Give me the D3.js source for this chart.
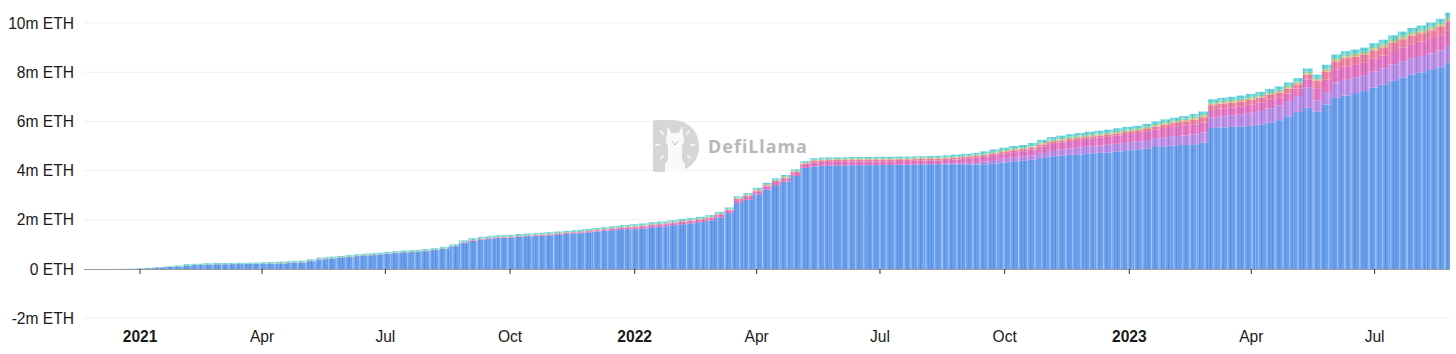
<!DOCTYPE html>
<html>

<head>
  <meta charset="utf-8">
  <title>Staked ETH</title>
  <style>
    html, body { margin: 0; padding: 0; background: #fff; }
    svg { display: block; }
    text { font-family: "Liberation Sans", Arial, sans-serif; }
  </style>
</head>

<body>
  <svg width="1456" height="354"></svg>
  <script src="https://d3js.org/d3.v7.min.js"></script>
  <script>
    // weekly values, million ETH
    var blue = [
      0,0,0,0,.003,.006,.02,.035,.06,.085,
      .09,.14,.16,.18,.19,.19,.20,.20,.21,.22,
      .205,.225,.255,.265,.315,.385,.425,.455,.485,.525,
      .555,.585,.615,.645,.675,.695,.725,.765,.825,.925,
      1.05,1.14,1.20,1.24,1.26,1.28,1.31,1.33,1.35,1.37,
      1.39,1.42,1.45,1.48,1.52,1.56,1.58,1.62,1.615,1.645,
      1.695,1.725,1.775,1.815,1.855,1.905,1.975,2.095,2.275,2.68,
      2.81,3.03,3.23,3.41,3.55,3.78,4.11,4.17,4.20,4.21,
      4.21,4.22,4.22,4.22,4.23,4.23,4.24,4.24,4.25,4.26,
      4.26,4.26,4.26,4.25,4.25,4.26,4.29,4.33,4.38,4.40,
      4.44,4.52,4.58,4.61,4.64,4.66,4.70,4.72,4.74,4.78,
      4.83,4.85,4.89,4.96,4.99,5.02,5.04,5.07,5.14,5.73,
      5.76,5.78,5.79,5.82,5.87,5.95,6.05,6.21,6.38,6.55,
      6.39,6.69,6.96,7.05,7.15,7.23,7.37,7.49,7.65,7.78,
      7.90,7.99,8.09,8.20,8.37
    ];
    var purple = [
      0,0,0,0,0,0,0,0,0,0,
      0,0,0,0,0,0,0,0,0,0,
      0,0,0,0,0,0,0,0,0,0,
      0,0,0,0,0,0,0,0,0,0,
      0,0,0,0,0,0,0,0,0,0,
      0,0,0,0,0,0,0,0,0,0,
      0,0,0,0,0,0,0,0,0,0,
      0,0,0,0,0,0,0,0,0,0,
      0,0,0,0,0,0,0,0,0,0,
      0,.02,.04,.07,.10,.12,.14,.15,.16,.17,
      .18,.20,.22,.24,.26,.28,.29,.30,.31,.32,
      .33,.34,.35,.36,.37,.38,.39,.40,.42,.43,
      .45,.47,.50,.53,.55,.58,.60,.62,.65,.84,
      .46,.50,.62,.64,.65,.65,.66,.66,.66,.67,
      .67,.67,.67,.68,.70
    ];
    var pink = [
      0,0,0,0,0,0,0,0,0,0,
      0,0,0,0,0,0,0,0,0,0,
      .005,.005,.005,.005,.005,.005,.005,.005,.005,.005,
      .005,.005,.005,.005,.005,.005,.005,.005,.005,.005,
      .02,.02,.02,.02,.02,.02,.02,.02,.03,.03,
      .04,.04,.04,.05,.05,.05,.06,.06,.08,.08,
      .08,.08,.08,.09,.09,.09,.09,.10,.10,.12,
      .12,.12,.12,.12,.12,.12,.12,.15,.15,.15,
      .15,.15,.15,.15,.15,.15,.15,.15,.15,.15,
      .15,.15,.15,.16,.17,.18,.20,.20,.21,.22,
      .24,.26,.28,.29,.30,.31,.31,.32,.32,.33,
      .33,.34,.36,.35,.37,.38,.39,.40,.40,.30,
      .31,.31,.32,.33,.34,.35,.32,.31,.30,.32,
      .50,.52,.54,.55,.50,.50,.52,.53,.55,.56,
      .57,.58,.59,.60,.62
    ];
    var salmon = [
      0,0,0,0,0,0,0,0,0,0,
      0,0,0,0,0,0,0,0,0,0,
      .005,.005,.005,.005,.005,.005,.005,.005,.005,.005,
      .005,.005,.005,.005,.005,.005,.005,.005,.005,.005,
      .01,.01,.01,.01,.01,.01,.01,.01,.01,.01,
      .01,.01,.01,.01,.01,.01,.02,.02,.03,.03,
      .03,.03,.03,.03,.03,.03,.03,.03,.03,.05,
      .05,.05,.05,.05,.05,.05,.05,.07,.07,.07,
      .07,.07,.07,.07,.07,.07,.07,.07,.07,.07,
      .07,.07,.07,.07,.07,.07,.07,.08,.08,.08,
      .08,.08,.08,.08,.08,.08,.08,.08,.08,.08,
      .08,.08,.09,.12,.14,.16,.18,.20,.21,.20,
      .20,.20,.20,.20,.20,.20,.20,.19,.18,.19,
      .30,.32,.32,.33,.33,.33,.33,.33,.33,.33,
      .34,.34,.35,.36,.38
    ];
    var gold = [
      0,0,0,0,0,0,0,0,0,0,
      0,0,0,0,0,0,0,0,0,0,
      .005,.005,.005,.005,.005,.005,.005,.005,.005,.005,
      .005,.005,.005,.005,.005,.005,.005,.005,.005,.005,
      .01,.01,.01,.01,.01,.01,.01,.01,.01,.01,
      .01,.01,.01,.01,.01,.01,.01,.01,.015,.015,
      .015,.015,.015,.015,.015,.015,.015,.015,.015,.02,
      .02,.02,.02,.02,.02,.02,.02,.03,.03,.03,
      .03,.03,.03,.03,.03,.03,.03,.03,.03,.03,
      .03,.03,.03,.03,.03,.03,.04,.04,.04,.04,
      .04,.05,.05,.05,.05,.05,.05,.05,.05,.05,
      .05,.05,.05,.05,.05,.05,.06,.06,.06,.06,
      .06,.06,.06,.06,.06,.06,.06,.06,.06,.06,
      .06,.07,.07,.07,.07,.07,.08,.08,.08,.08,
      .08,.08,.08,.09,.10
    ];
    var green = [
      0,0,0,0,.001,.002,.003,.005,.007,.01,
      .02,.02,.02,.02,.02,.02,.02,.02,.02,.02,
      .025,.025,.025,.025,.025,.025,.025,.025,.025,.025,
      .025,.025,.025,.025,.025,.025,.025,.025,.025,.025,
      .03,.03,.03,.03,.03,.03,.03,.03,.03,.03,
      .03,.03,.03,.03,.03,.03,.03,.03,.03,.03,
      .03,.03,.03,.03,.03,.03,.03,.03,.03,.03,
      .03,.03,.03,.03,.03,.03,.03,.03,.03,.03,
      .03,.03,.03,.03,.03,.03,.03,.03,.03,.03,
      .03,.03,.03,.03,.03,.04,.04,.04,.04,.04,
      .05,.05,.05,.05,.05,.05,.05,.05,.06,.06,
      .06,.06,.06,.06,.06,.06,.06,.07,.07,.06,
      .06,.06,.06,.06,.06,.06,.06,.06,.06,.06,
      .06,.06,.07,.07,.07,.07,.07,.08,.08,.08,
      .08,.08,.08,.08,.08
    ];
    var teal = [
      0,0,0,0,.002,.003,.005,.008,.012,.015,
      .03,.03,.03,.03,.03,.03,.03,.03,.03,.03,
      .035,.035,.035,.035,.035,.035,.035,.035,.035,.035,
      .035,.035,.035,.035,.035,.035,.035,.035,.035,.035,
      .04,.04,.04,.04,.04,.04,.04,.04,.04,.04,
      .04,.04,.04,.04,.04,.04,.04,.04,.05,.05,
      .05,.05,.05,.05,.05,.05,.05,.05,.05,.05,
      .05,.05,.05,.05,.05,.05,.05,.05,.05,.05,
      .05,.05,.05,.05,.05,.05,.05,.05,.05,.05,
      .06,.06,.07,.07,.07,.08,.08,.09,.09,.09,
      .09,.09,.10,.10,.10,.10,.10,.10,.10,.10,
      .10,.10,.10,.10,.10,.10,.10,.10,.10,.12,
      .12,.12,.12,.12,.12,.12,.13,.13,.13,.13,
      .13,.14,.14,.14,.15,.15,.15,.15,.15,.15,
      .16,.16,.16,.16,.17
    ];

    var seriesNames = ["blue", "purple", "pink", "salmon", "gold", "green", "teal"];
    var seriesColors = ["#6b9fe9", "#bf8ee6", "#e874c0", "#f37f9c", "#e3bb80", "#84d6a0", "#66d6da"];
    var seriesValues = [blue, purple, pink, salmon, gold, green, teal];

    var yTicks = [-2, 0, 2, 4, 6, 8, 10];
    var xTickDates = ["2021-01-01", "2021-04-01", "2021-07-01", "2021-10-01", "2022-01-01", "2022-04-01", "2022-07-01", "2022-10-01", "2023-01-01", "2023-04-01", "2023-07-01"];
    var xTickLabels = ["2021", "Apr", "Jul", "Oct", "2022", "Apr", "Jul", "Oct", "2023", "Apr", "Jul"];

    // the bar texture: [offset, width, kind], kind 0 is a dark line, 1 a light one
    var stripeMarks = [[1, 1, 0], [4, 1.2, 1], [7.5, 1, 0], [11, 1.6, 1], [14, 0.8, 0], [18, 1.2, 1], [21, 1.2, 0], [26, 1.4, 1], [29, 0.8, 0]];

    var startDay = Date.UTC(2020, 10, 21);
    var dayMs = 86400000;

    var xScale = d3.scaleUtc().domain([new Date(startDay), new Date(Date.UTC(2023, 7, 26))]).range([84, 1450]);
    var yScale = d3.scaleLinear().domain([-2, 10]).range([318.2, 23]);

    var rows = blue.map(function (v, i) {
      var row = { date: new Date(startDay + i * 7 * dayMs) };
      seriesNames.forEach(function (name, s) { row[name] = seriesValues[s][i]; });
      return row;
    });
    var stacked = d3.stack().keys(seriesNames)(rows);

    var svg = d3.select("svg");
    var defs = svg.append("defs");
    defs.append("filter").attr("id", "soft")
      .attr("x", "-1%").attr("y", "-5%").attr("width", "102%").attr("height", "110%")
      .append("feGaussianBlur").attr("stdDeviation", 0.6);
    defs.append("clipPath").attr("id", "plot")
      .append("rect").attr("x", 84).attr("y", 0).attr("width", 1366).attr("height", 354);
    var stripes = defs.append("pattern").attr("id", "stripes")
      .attr("patternUnits", "userSpaceOnUse")
      .attr("width", 31).attr("height", 10);
    stripes.selectAll("rect")
      .data(stripeMarks)
      .join("rect")
      .attr("x", d => d[0]).attr("y", 0)
      .attr("width", d => d[1]).attr("height", 10)
      .attr("fill", d => d[2] == 0 ? "#2a62d8" : "#ffffff")
      .attr("fill-opacity", d => d[2] == 0 ? 0.28 : 0.3);

    // horizontal grid
    svg.append("g")
      .selectAll("line")
      .data(yTicks.filter(d => d != 0))
      .join("line")
      .attr("x1", 84).attr("x2", 1450)
      .attr("y1", d => yScale(d)).attr("y2", d => yScale(d))
      .attr("stroke", "#f0f0f0").attr("stroke-width", 1);

    // watermark
    var logo = svg.append("g").attr("transform", "translate(653,120)");
    logo.append("path")
      .attr("d", "M2,0 H18 C36,0 46,12 46,26 C46,41 36,52 18,52 H2 Q0,52 0,50 V2 Q0,0 2,0 Z")
      .attr("fill", "#d6d6d6");
    logo.append("path")
      .attr("d", "M15,6 L18,13 H26 L29,6 L30,15 C32,19 31,23 29,26 V40 L32,44 V52 H12 V44 L15,40 V26 C13,23 12,19 14,15 Z")
      .attr("fill", "#fafafa");
    logo.append("path")
      .attr("d", "M19,21 L22,25 L25,21").attr("fill", "none").attr("stroke", "#bdbdbd").attr("stroke-width", 1);
    logo.append("g")
      .attr("stroke", "#f4f4f4").attr("stroke-width", 2).attr("stroke-linecap", "round")
      .selectAll("line")
      .data([[8, 11, 10, 14], [3, 25, 6, 25], [8, 38, 10, 36], [36, 11, 34, 14], [41, 25, 38, 25], [37, 38, 35, 36]])
      .join("line")
      .attr("x1", d => d[0]).attr("y1", d => d[1]).attr("x2", d => d[2]).attr("y2", d => d[3]);
    logo.append("text")
      .attr("x", 55).attr("y", 33)
      .attr("font-size", 18).attr("font-weight", 700)
      .attr("letter-spacing", 1)
      .style("font-family", "'Noto Sans', sans-serif")
      .attr("fill", "#b8b8b8")
      .text("DefiLlama");

    // stacked bars, each centred on its week
    var step = xScale(new Date(startDay + 7 * dayMs)) - xScale(new Date(startDay));
    var barsLayer = svg.append("g").attr("filter", "url(#soft)").attr("clip-path", "url(#plot)");
    barsLayer.selectAll("g.series")
      .data(stacked)
      .join("g")
      .attr("class", "series")
      .attr("fill", (d, i) => seriesColors[i])
      .selectAll("rect")
      .data(d => d)
      .join("rect")
      .attr("x", d => xScale(d.data.date) - step / 2)
      .attr("width", step + 0.1)
      .attr("y", d => yScale(d[1]))
      .attr("height", d => Math.max(0, yScale(d[0]) - yScale(d[1])));

    barsLayer.append("g")
      .selectAll("rect")
      .data(stacked[stacked.length - 1])
      .join("rect")
      .attr("x", d => xScale(d.data.date) - step / 2)
      .attr("width", step + 0.1)
      .attr("y", d => yScale(d[1]))
      .attr("height", d => Math.max(0, yScale(0) - yScale(d[1])))
      .attr("fill", "url(#stripes)");

    // axes
    var xAxis = d3.axisBottom(xScale)
      .tickValues(xTickDates.map(d => new Date(d + "T00:00:00Z")))
      .tickSize(5)
      .tickFormat((d, i) => xTickLabels[i]);
    var xG = svg.append("g").attr("transform", "translate(0," + yScale(0) + ")").call(xAxis);
    xG.select(".domain").attr("stroke", "#9a9a9a").attr("d", "M84,0.5H1450");
    xG.selectAll(".tick line").attr("stroke", "#333");
    xG.selectAll(".tick text")
      .attr("y", 0)
      .attr("dy", 0)
      .attr("transform", "translate(0,73)")
      .attr("font-size", 15.6)
      .attr("font-weight", (d, i) => /^\d/.test(xTickLabels[i]) ? 700 : 400)
      .attr("fill", "#1a1a1a");

    var yAxis = d3.axisLeft(yScale)
      .tickValues(yTicks)
      .tickSize(0)
      .tickPadding(10)
      .tickFormat(d => d == 0 ? "0 ETH" : d + "m ETH");
    var yG = svg.append("g").attr("transform", "translate(84,0)").call(yAxis);
    yG.select(".domain").remove();
    yG.selectAll(".tick text")
      .attr("font-size", 15.6)
      .attr("fill", "#1a1a1a");
  </script>
</body>

</html>
